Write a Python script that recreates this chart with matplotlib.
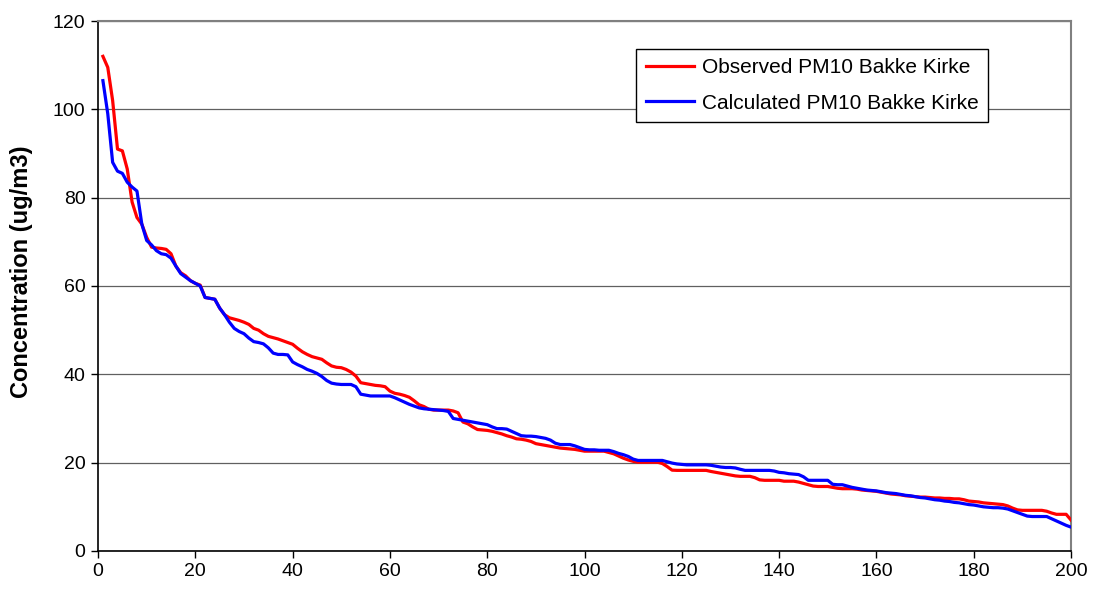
#!/usr/bin/env python

import numpy as np
from matplotlib import pyplot as plt

plt.rcParams['font.family'] = ['Liberation Sans', 'DejaVu Sans']

# rang (1..200) des valeurs journalieres triees
rang = np.arange(1, 201)

observe = [
    112, 109.5, 102, 91, 90.6, 86.5, 79, 75.5, 74, 71,
    68.8, 68.6, 68.5, 68.3, 67.3, 64.5, 63, 62.3, 61.2, 60.6,
    60.2, 57.4, 57.2, 57, 55, 53.5, 52.8, 52.5, 52.2, 51.8,
    51.3, 50.4, 50, 49.2, 48.6, 48.3, 48, 47.6, 47.2, 46.8,
    45.9, 45.1, 44.5, 44, 43.7, 43.4, 42.6, 41.9, 41.6, 41.5,
    41.1, 40.5, 39.6, 38.1, 37.9, 37.7, 37.5, 37.4, 37.2, 36.2,
    35.7, 35.5, 35.2, 34.8, 34, 33.1, 32.7, 32.1, 31.9, 31.9,
    31.9, 31.9, 31.7, 31.3, 29.2, 28.8, 28.1, 27.5, 27.4, 27.3,
    27.1, 26.8, 26.5, 26.1, 25.8, 25.4, 25.3, 25.1, 24.8, 24.3,
    24.1, 23.9, 23.7, 23.5, 23.3, 23.2, 23.1, 23, 22.8, 22.6,
    22.6, 22.6, 22.6, 22.6, 22.3, 22, 21.5, 21, 20.6, 20.3,
    20.1, 20.1, 20.1, 20.1, 20.1, 19.8, 19.1, 18.3, 18.25, 18.25,
    18.25, 18.25, 18.25, 18.25, 18.25, 18, 17.8, 17.6, 17.4, 17.2,
    17, 16.9, 16.9, 16.9, 16.6, 16.1, 16, 16, 16, 16,
    15.8, 15.8, 15.8, 15.6, 15.3, 15, 14.7, 14.6, 14.6, 14.6,
    14.4, 14.2, 14.1, 14.1, 14.1, 14, 13.8, 13.7, 13.6, 13.5,
    13.3, 13.1, 12.9, 12.8, 12.7, 12.5, 12.4, 12.3, 12.2, 12.2,
    12.1, 12, 12, 11.9, 11.9, 11.8, 11.8, 11.6, 11.3, 11.2,
    11.1, 10.9, 10.8, 10.7, 10.6, 10.5, 10.2, 9.7, 9.3, 9.2,
    9.2, 9.2, 9.2, 9.2, 9, 8.6, 8.3, 8.3, 8.3, 7.0,
]

calcule = [
    106.5, 99, 88, 86, 85.5, 83.5, 82.4, 81.5, 74, 70.3,
    69.3, 68, 67.3, 67.1, 66.3, 64.5, 62.8, 62, 61.2, 60.6,
    60, 57.4, 57.2, 57, 55, 53.5, 51.8, 50.4, 49.7, 49.2,
    48.2, 47.4, 47.2, 46.9, 46, 44.8, 44.5, 44.5, 44.4, 42.8,
    42.2, 41.7, 41.1, 40.7, 40.2, 39.5, 38.6, 38, 37.8, 37.7,
    37.7, 37.7, 37.2, 35.5, 35.3, 35.1, 35.1, 35.1, 35.1, 35.1,
    34.7, 34.2, 33.7, 33.2, 32.8, 32.4, 32.2, 32.1, 32, 31.9,
    31.8, 31.6, 30, 29.8, 29.6, 29.4, 29.2, 29, 28.8, 28.6,
    28.1, 27.7, 27.7, 27.6, 27.1, 26.6, 26.1, 26, 26, 25.9,
    25.7, 25.5, 25.1, 24.4, 24.1, 24.1, 24.1, 23.8, 23.4, 23,
    22.9, 22.9, 22.8, 22.8, 22.8, 22.5, 22.1, 21.8, 21.4, 20.8,
    20.5, 20.5, 20.5, 20.5, 20.5, 20.5, 20.2, 19.9, 19.7, 19.6,
    19.5, 19.5, 19.5, 19.5, 19.5, 19.4, 19.2, 19, 18.9, 18.9,
    18.8, 18.5, 18.25, 18.25, 18.25, 18.25, 18.25, 18.25, 18.1, 17.8,
    17.7, 17.5, 17.4, 17.3, 16.8, 16, 16, 16, 16, 16,
    15.1, 15, 15, 14.7, 14.4, 14.2, 14, 13.8, 13.7, 13.6,
    13.4, 13.2, 13.1, 13, 12.8, 12.6, 12.5, 12.3, 12.1, 12,
    11.8, 11.6, 11.5, 11.3, 11.2, 11, 10.9, 10.7, 10.5, 10.4,
    10.2, 10, 9.9, 9.8, 9.8, 9.7, 9.5, 9.1, 8.7, 8.3,
    7.9, 7.8, 7.8, 7.8, 7.8, 7.3, 6.8, 6.3, 5.8, 5.4,
]

noms = ["Observed PM10 Bakke Kirke", "Calculated PM10 Bakke Kirke"]
couleurs = ["#ff0000", "#0000ff"]

fig = plt.figure(figsize=(10.93, 5.97), dpi=100)
ax = fig.add_axes([0.0897, 0.0771, 0.8902, 0.8877])

ax.plot(rang, observe, color=couleurs[0], lw=2.3, label=noms[0], zorder=3)
ax.plot(rang, calcule, color=couleurs[1], lw=2.3, label=noms[1], zorder=4)

ax.set_xlim(0, 200)
ax.set_ylim(0, 120)
ax.set_xticks(range(0, 201, 20))
ax.set_yticks(range(0, 121, 20))
ax.tick_params(labelsize=14, length=5, width=1, direction='out', colors='black', pad=4)
ax.grid(axis='y', color='#606060', lw=0.9)
ax.set_axisbelow(True)

for cote in ['left', 'bottom']:
    ax.spines[cote].set_color('black')
    ax.spines[cote].set_linewidth(1.2)
for cote in ['top', 'right']:
    ax.spines[cote].set_color('#808080')
    ax.spines[cote].set_linewidth(1.5)

ax.set_ylabel("Concentration (ug/m3)", fontsize=17, fontweight='bold')
ax.yaxis.set_label_coords(-0.067, 0.526)

leg = ax.legend(loc='upper right', bbox_to_anchor=(0.9147, 0.947), fontsize=15,
                frameon=True, fancybox=False, framealpha=1, edgecolor='black',
                handlelength=2.3, handletextpad=0.4, borderpad=0.45,
                labelspacing=0.78, borderaxespad=0)
leg.get_frame().set_linewidth(1)

plt.savefig("out.png", dpi=100)
